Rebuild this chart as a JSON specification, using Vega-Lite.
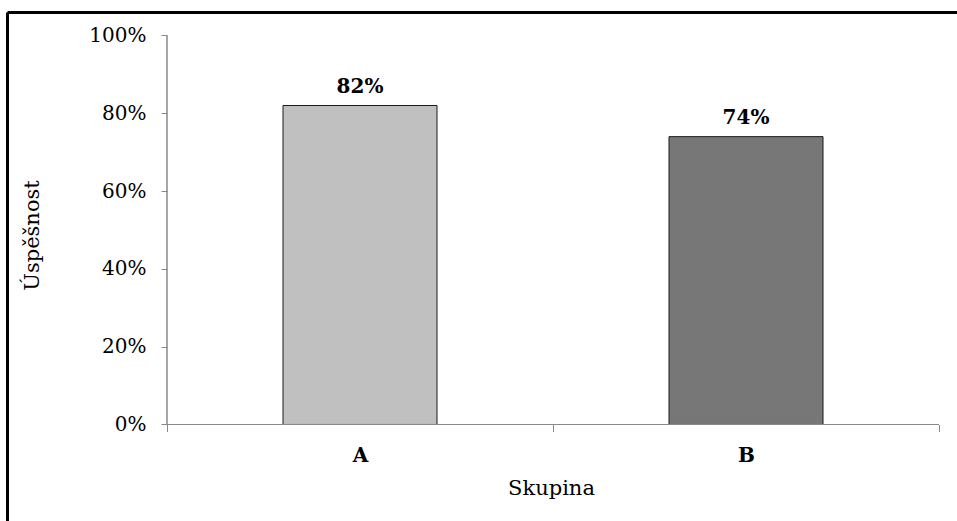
{
  "$schema": "https://vega.github.io/schema/vega-lite/v6.json",
  "width": 950,
  "height": 509,
  "autosize": {"type": "none"},
  "padding": {"left": 7, "top": 12, "right": 0, "bottom": 0},
  "background": "white",
  "config": {"font": "DejaVu Serif", "view": {"stroke": null}},
  "data": {"values": [
    {"skupina": "A", "uspesnost": 0.82},
    {"skupina": "B", "uspesnost": 0.74}
  ]},
  "resolve": {"axis": {"x": "independent", "y": "independent"}},
  "layer": [
    {
      "mark": {"type": "bar", "size": 154, "stroke": "#1a1a1a", "strokeWidth": 1},
      "encoding": {
        "x": {
          "field": "skupina", "type": "nominal",
          "scale": {"type": "band", "domain": ["A", "B"], "paddingInner": 0, "paddingOuter": 0.23057, "align": 0.8989},
          "axis": {
            "orient": "bottom", "offset": -96.5, "domain": false, "tickBand": "extent",
            "tickColor": "#898989", "tickSize": 7, "labelAngle": 0,
            "labelFontWeight": "bold", "labelFontSize": 20, "labelColor": "black",
            "labelBaseline": "alphabetic", "labelPadding": 29.5,
            "title": "Skupina", "titleFontWeight": "normal", "titleFontSize": 21, "titleColor": "black",
            "titleBaseline": "alphabetic", "titleX": 544, "titleY": 69.5, "titleAlign": "center"
          }
        },
        "y": {
          "field": "uspesnost", "type": "quantitative",
          "scale": {"domain": [-0.2481, 1.0604], "nice": false, "zero": false},
          "axis": {
            "orient": "left", "offset": -160, "domain": false, "grid": false,
            "values": [0, 0.2, 0.4, 0.6, 0.8, 1], "format": ".0%",
            "tickColor": "#898989", "tickSize": 6,
            "labelFontSize": 20, "labelColor": "black", "labelPadding": 15,
            "title": "Úspěšnost", "titleFontWeight": "normal", "titleFontSize": 21, "titleColor": "black",
            "titleX": -135, "titleY": 223, "titleBaseline": "middle", "titleAngle": -90, "titleAlign": "center"
          }
        },
        "y2": {"datum": 0},
        "color": {"field": "skupina", "type": "nominal", "scale": {"range": ["#c0c0c0", "#777777"]}, "legend": null}
      }
    },
    {
      "mark": {"type": "text", "baseline": "alphabetic", "dy": -13, "fontWeight": "bold", "fontSize": 20, "color": "black"},
      "encoding": {
        "x": {
          "field": "skupina", "type": "nominal",
          "axis": {"orient": "top", "domainColor": "black", "domainWidth": 3, "ticks": false, "labels": false, "title": null, "grid": false}
        },
        "y": {
          "field": "uspesnost", "type": "quantitative",
          "axis": {"orient": "left", "domainColor": "black", "domainWidth": 3, "ticks": false, "labels": false, "title": null, "grid": false}
        },
        "text": {"field": "uspesnost", "type": "quantitative", "format": ".0%"}
      }
    },
    {
      "mark": {"type": "rule", "color": "#898989", "strokeWidth": 1},
      "encoding": {
        "x": {"datum": "A", "bandPosition": 0, "axis": null},
        "y": {"datum": 0, "axis": null},
        "y2": {"datum": 1}
      }
    },
    {
      "mark": {"type": "rule", "color": "#898989", "strokeWidth": 1},
      "encoding": {
        "x": {"datum": "A", "bandPosition": 0, "axis": null},
        "x2": {"datum": "B", "bandPosition": 1},
        "y": {"datum": 0, "axis": null}
      }
    }
  ]
}
